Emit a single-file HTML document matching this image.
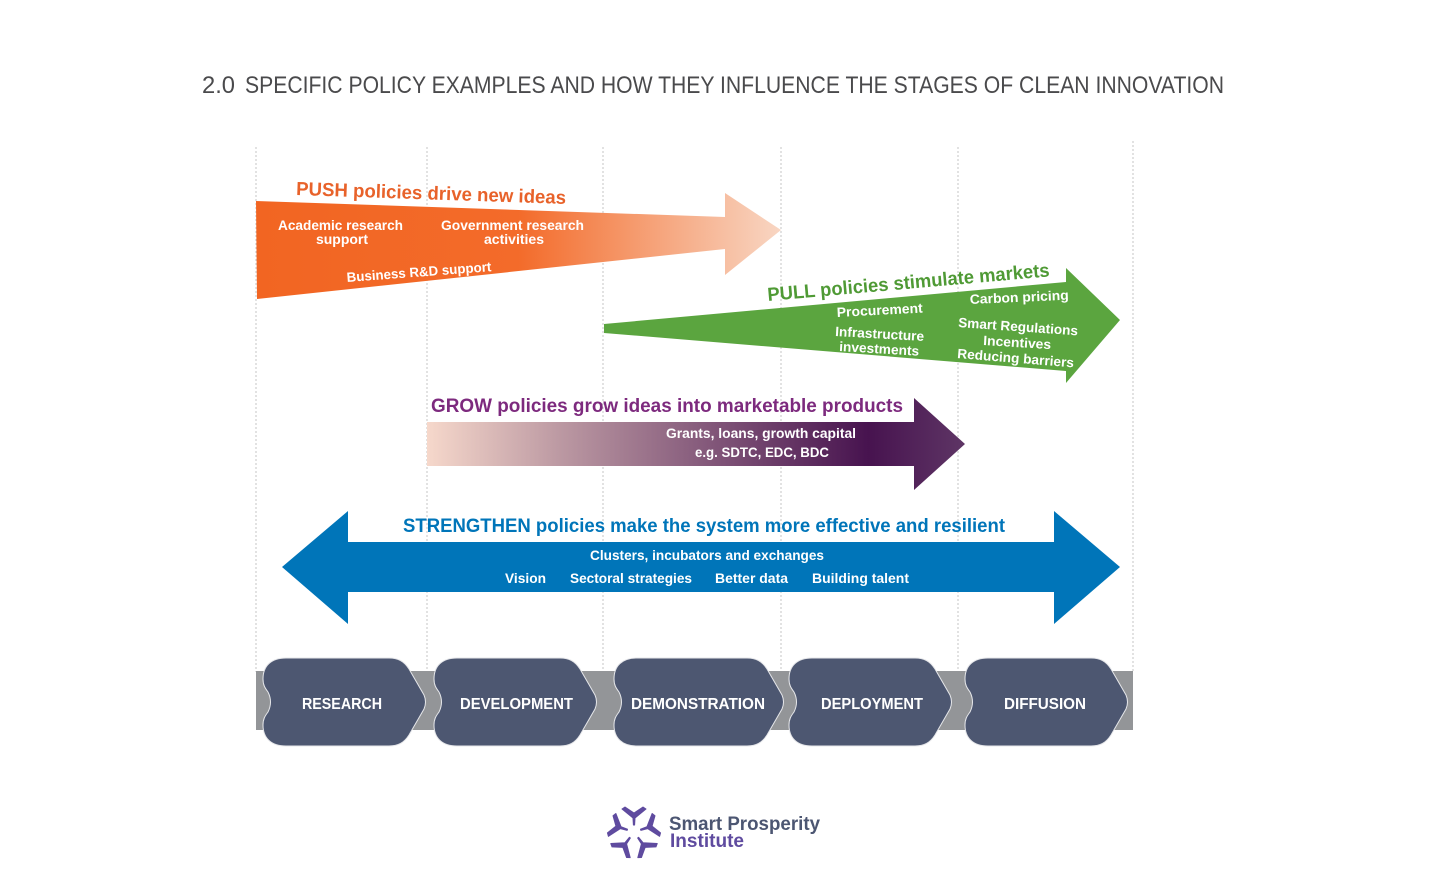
<!DOCTYPE html>
<html>
<head>
<meta charset="utf-8">
<style>
html,body{margin:0;padding:0;background:#fff;}
svg{display:block;font-family:"Liberation Sans",sans-serif;}
.w{fill:#fff;font-weight:bold;font-size:13.5px;}
.h{font-weight:bold;font-size:19px;}
.s{fill:#fff;font-weight:bold;font-size:16px;}
</style>
</head>
<body>
<svg width="1456" height="884" viewBox="0 0 1456 884" xmlns="http://www.w3.org/2000/svg">
<defs>
<linearGradient id="push" gradientUnits="userSpaceOnUse" x1="256" y1="0" x2="781" y2="0">
<stop offset="0" stop-color="#f26522"/><stop offset="0.5" stop-color="#f36b2a"/><stop offset="1" stop-color="#f8d6c3"/>
</linearGradient>
<linearGradient id="grow" gradientUnits="userSpaceOnUse" x1="427" y1="0" x2="965" y2="0">
<stop offset="0" stop-color="#f6d8cb"/><stop offset="0.25" stop-color="#bb98a2"/><stop offset="0.82" stop-color="#47134f"/><stop offset="1" stop-color="#5e3565"/>
</linearGradient>
</defs>
<rect width="1456" height="884" fill="#fff"/>

<text x="202" y="93" font-size="24" fill="#4a4a4c" textLength="33" lengthAdjust="spacingAndGlyphs">2.0</text>
<text x="245" y="93" font-size="24" fill="#4a4a4c" textLength="979" lengthAdjust="spacingAndGlyphs">SPECIFIC POLICY EXAMPLES AND HOW THEY INFLUENCE THE STAGES OF CLEAN INNOVATION</text>

<g stroke="#c4c4c6" stroke-width="1" stroke-dasharray="2 2">
<line x1="256" y1="147" x2="256" y2="672"/>
<line x1="427" y1="147" x2="427" y2="672"/>
<line x1="603" y1="147" x2="603" y2="672"/>
<line x1="781" y1="147" x2="781" y2="672"/>
<line x1="958" y1="147" x2="958" y2="672"/>
<line x1="1133" y1="141" x2="1133" y2="672"/>
</g>

<polygon points="256,201 725,217 725,193 781,230 725,275 725,249 257,299" fill="url(#push)"/>
<text class="h" fill="#e8622a" transform="translate(296,195) rotate(1.9)" textLength="270" lengthAdjust="spacingAndGlyphs">PUSH policies drive new ideas</text>
<text class="w" x="278" y="230" textLength="125" lengthAdjust="spacingAndGlyphs">Academic research</text>
<text class="w" x="316" y="244" textLength="52" lengthAdjust="spacingAndGlyphs">support</text>
<text class="w" x="441" y="230" textLength="143" lengthAdjust="spacingAndGlyphs">Government research</text>
<text class="w" x="484" y="244" textLength="60" lengthAdjust="spacingAndGlyphs">activities</text>
<text class="w" transform="translate(347,282) rotate(-4.3)" textLength="145" lengthAdjust="spacingAndGlyphs">Business R&amp;D support</text>

<polygon points="604,324 1066,282 1066,268 1120,320 1066,383 1066,371 604,333" fill="#5ba53f"/>
<text class="h" fill="#4f9a35" transform="translate(768,301) rotate(-5)" textLength="283" lengthAdjust="spacingAndGlyphs">PULL policies stimulate markets</text>
<text class="w" transform="translate(837,317) rotate(-3)" textLength="86" lengthAdjust="spacingAndGlyphs">Procurement</text>
<text class="w" transform="translate(970,304) rotate(-2.5)" textLength="99" lengthAdjust="spacingAndGlyphs">Carbon pricing</text>
<text class="w" transform="translate(835,336) rotate(3.2)" textLength="89" lengthAdjust="spacingAndGlyphs">Infrastructure</text>
<text class="w" transform="translate(839,351) rotate(3.4)" textLength="80" lengthAdjust="spacingAndGlyphs">investments</text>
<text class="w" transform="translate(958,327) rotate(4)" textLength="120" lengthAdjust="spacingAndGlyphs">Smart Regulations</text>
<text class="w" transform="translate(983,345) rotate(3.5)" textLength="68" lengthAdjust="spacingAndGlyphs">Incentives</text>
<text class="w" transform="translate(957,358) rotate(4.6)" textLength="117" lengthAdjust="spacingAndGlyphs">Reducing barriers</text>

<polygon points="427,422 914,422 914,398 965,444 914,490 914,466 427,466" fill="url(#grow)"/>
<text class="h" fill="#7d2a7e" x="431" y="412" textLength="472" lengthAdjust="spacingAndGlyphs">GROW policies grow ideas into marketable products</text>
<text class="w" x="666" y="438" textLength="190" lengthAdjust="spacingAndGlyphs">Grants, loans, growth capital</text>
<text class="w" x="695" y="457" textLength="134" lengthAdjust="spacingAndGlyphs">e.g. SDTC, EDC, BDC</text>

<polygon points="282,567 348,511 348,542 1054,542 1054,511 1120,567 1054,624 1054,592 348,592 348,624" fill="#0075b9"/>
<text class="h" fill="#0075b9" x="403" y="532" textLength="602" lengthAdjust="spacingAndGlyphs">STRENGTHEN policies make the system more effective and resilient</text>
<text class="w" x="590" y="560" textLength="234" lengthAdjust="spacingAndGlyphs">Clusters, incubators and exchanges</text>
<text class="w" x="505" y="583" textLength="41" lengthAdjust="spacingAndGlyphs">Vision</text>
<text class="w" x="570" y="583" textLength="122" lengthAdjust="spacingAndGlyphs">Sectoral strategies</text>
<text class="w" x="715" y="583" textLength="73" lengthAdjust="spacingAndGlyphs">Better data</text>
<text class="w" x="812" y="583" textLength="97" lengthAdjust="spacingAndGlyphs">Building talent</text>

<rect x="256" y="671" width="877" height="59" fill="#939598"/>

<g fill="#4d5771" stroke="#e6e7ea" stroke-width="1">
<path d="M286,658 H389 C398,658 404,661 409,669 L424,695 Q427,702 424,709 L409,735 C404,743 398,746 389,746 H286 C271,746 263,738 263,725 C263,719 265,716 268,712 Q273,702 268,692 C265,688 263,685 263,679 C263,666 271,658 286,658 Z"/>
<path d="M457,658 H560 C569,658 575,661 580,669 L595,695 Q598,702 595,709 L580,735 C575,743 569,746 560,746 H457 C442,746 434,738 434,725 C434,719 436,716 439,712 Q444,702 439,692 C436,688 434,685 434,679 C434,666 442,658 457,658 Z"/>
<path d="M637,658 H747 C756,658 762,661 767,669 L782,695 Q785,702 782,709 L767,735 C762,743 756,746 747,746 H637 C622,746 614,738 614,725 C614,719 616,716 619,712 Q624,702 619,692 C616,688 614,685 614,679 C614,666 622,658 637,658 Z"/>
<path d="M812,658 H915 C924,658 930,661 935,669 L950,695 Q953,702 950,709 L935,735 C930,743 924,746 915,746 H812 C797,746 789,738 789,725 C789,719 791,716 794,712 Q799,702 794,692 C791,688 789,685 789,679 C789,666 797,658 812,658 Z"/>
<path d="M988,658 H1091 C1100,658 1106,661 1111,669 L1126,695 Q1129,702 1126,709 L1111,735 C1106,743 1100,746 1091,746 H988 C973,746 965,738 965,725 C965,719 967,716 970,712 Q975,702 970,692 C967,688 965,685 965,679 C965,666 973,658 988,658 Z"/>
</g>
<text class="s" x="302" y="709" textLength="80" lengthAdjust="spacingAndGlyphs">RESEARCH</text>
<text class="s" x="460" y="709" textLength="113" lengthAdjust="spacingAndGlyphs">DEVELOPMENT</text>
<text class="s" x="631" y="709" textLength="134" lengthAdjust="spacingAndGlyphs">DEMONSTRATION</text>
<text class="s" x="821" y="709" textLength="102" lengthAdjust="spacingAndGlyphs">DEPLOYMENT</text>
<text class="s" x="1004" y="709" textLength="82" lengthAdjust="spacingAndGlyphs">DIFFUSION</text>

<g fill="#5f4b9f" stroke="#5f4b9f" stroke-width="1" stroke-linejoin="round">
<path d="M622,809 L625,807 L634,813 L643,807 L646,809 L635,818 L634.6,825 L633.4,825 L633,818 Z"/>
<path transform="rotate(72 634 832)" d="M622,809 L625,807 L634,813 L643,807 L646,809 L635,818 L634.6,825 L633.4,825 L633,818 Z"/>
<path transform="rotate(144 634 832)" d="M622,809 L625,807 L634,813 L643,807 L646,809 L635,818 L634.6,825 L633.4,825 L633,818 Z"/>
<path transform="rotate(216 634 832)" d="M622,809 L625,807 L634,813 L643,807 L646,809 L635,818 L634.6,825 L633.4,825 L633,818 Z"/>
<path transform="rotate(288 634 832)" d="M622,809 L625,807 L634,813 L643,807 L646,809 L635,818 L634.6,825 L633.4,825 L633,818 Z"/>
</g>
<text x="669" y="830" font-size="19" font-weight="bold" fill="#4c5672" textLength="151" lengthAdjust="spacingAndGlyphs">Smart Prosperity</text>
<text x="670" y="847" font-size="19" font-weight="bold" fill="#5f4b9f" textLength="74" lengthAdjust="spacingAndGlyphs">Institute</text>
</svg>
</body>
</html>
